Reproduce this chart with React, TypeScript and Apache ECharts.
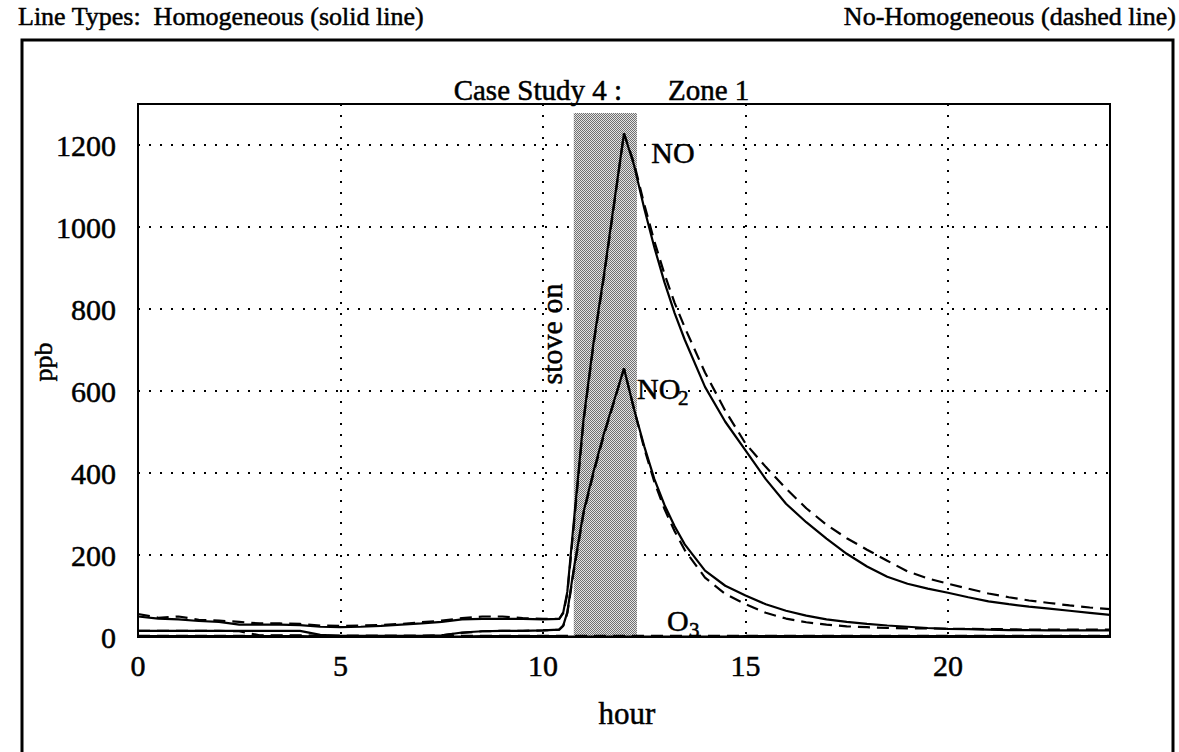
import React, { useEffect, useRef } from 'react';
import * as echarts from 'echarts';

// ---- data (hour of day vs concentration in ppb) ----
const hours = [
  0, 0.5, 1, 1.5, 2, 2.5, 3, 3.5, 4, 4.5,
  5, 5.5, 6, 6.5, 7, 7.5, 8, 8.5, 9, 9.5,
  10, 10.4, 10.5, 10.6, 10.75, 11, 11.25, 11.5, 11.75, 12,
  12.25, 12.5, 12.75, 13, 13.25, 13.5, 14, 14.5, 15, 15.5,
  16, 16.5, 17, 17.5, 18, 18.5, 19, 19.5, 20, 20.5,
  21, 21.5, 22, 22.5, 23, 23.5, 24,
];

const noHomogeneous = [
  50, 45, 43, 39, 37, 30, 30, 30, 29, 25,
  24, 25, 27, 30, 33, 37, 43, 44, 44, 44,
  43, 44, 60, 110, 270, 530, 720, 880, 1055, 1228,
  1150, 1045, 950, 865, 790, 725, 610, 525, 455, 385,
  325, 280, 240, 203, 172, 147, 130, 118, 108, 97,
  87, 80, 74, 69, 64, 59, 54,
];

const noNonHomogeneous = [
  56, 47, 50, 42, 40, 37, 33, 33, 32, 28,
  27, 28, 29, 32, 36, 40, 46, 50, 50, 46,
  44, 44, 58, 105, 260, 525, 715, 875, 1050, 1228,
  1155, 1055, 965, 885, 815, 755, 645, 552, 472, 415,
  362, 314, 274, 241, 213, 186, 160, 143, 130, 118,
  106, 97, 89, 83, 77, 72, 68,
];

const no2Homogeneous = [
  15, 15, 15, 15, 15, 15, 15, 15, 15, 5,
  3, 3, 3, 3, 3, 4, 11, 14, 15, 15,
  16, 18, 28, 60, 160, 305, 405, 495, 575, 655,
  555, 465, 385, 322, 270, 226, 162, 125, 101, 80,
  64, 52, 43, 37, 32, 28, 25, 22, 20, 19,
  18, 17, 17, 16, 16, 16, 16,
];

const no2NonHomogeneous = [
  15, 15, 15, 15, 15, 14, 4, 4, 4, 3,
  3, 3, 3, 3, 3, 4, 10, 14, 15, 15,
  16, 18, 27, 58, 155, 300, 400, 490, 572, 655,
  555, 460, 378, 312, 258, 212, 145, 105, 80, 59,
  45, 36, 30, 26, 24, 22, 21, 21, 20, 20,
  19, 19, 18, 18, 18, 18, 18,
];

const o3Homogeneous = [
  2, 2, 2, 2, 2, 2, 2, 2, 2, 1,
  1, 1, 1, 1, 1, 1, 1, 2, 2, 2,
  2, 2, 1, 1, 1, 1, 1, 1, 1, 1,
  1, 1, 1, 1, 1, 1, 1, 1, 2, 2,
  2, 2, 2, 2, 2, 2, 2, 2, 2, 2,
  2, 2, 2, 2, 2, 2, 2,
];

const o3NonHomogeneous = [
  3, 3, 3, 3, 3, 3, 3, 3, 3, 3,
  3, 3, 3, 3, 3, 3, 3, 3, 3, 3,
  3, 3, 3, 3, 3, 3, 3, 3, 3, 3,
  3, 3, 3, 3, 3, 3, 3, 3, 3, 3,
  3, 3, 3, 3, 3, 3, 3, 3, 3, 3,
  3, 3, 3, 3, 3, 3, 3,
];

const stoveOnHours = [10.76, 12.32];
const stoveShadeTop = 1278;
const xMin = 0;
const xMax = 24;
const xInterval = 5;
const yMin = 0;
const yMax = 1300;
const yInterval = 200;

const FONT = '"Liberation Serif", "Times New Roman", serif';
const INK = 0.5; // slight stroke to mimic the heavy scanned type

const pairs = (ys: number[]) => hours.map((h, i) => [h, ys[i]]);

function makeHalftone(): any {
  const c = document.createElement('canvas');
  c.width = 2;
  c.height = 2;
  const ctx = c.getContext('2d');
  if (!ctx) return '#b0b0b0';
  ctx.fillStyle = '#e4e4e4';
  ctx.fillRect(0, 0, 2, 2);
  ctx.fillStyle = '#707070';
  ctx.fillRect(0, 0, 1, 1);
  ctx.fillRect(1, 1, 1, 1);
  return { image: c, repeat: 'repeat', imageWidth: 2, imageHeight: 2 };
}

export default function App() {
  const ref = useRef<HTMLDivElement>(null);

  useEffect(() => {
    if (!ref.current) return;
    const chart = echarts.init(ref.current, undefined, { renderer: 'svg' });

    const solid = { color: '#000', width: 2.2, type: 'solid' as const };
    const dashed = { color: '#000', width: 2.2, type: [12, 7] as any };

    const mkSeries = (name: string, ys: number[], style: any, extra: any = {}) => ({
      name,
      type: 'line',
      data: pairs(ys),
      symbol: 'none',
      showSymbol: false,
      lineStyle: style,
      itemStyle: { color: '#000' },
      z: 3,
      ...extra,
    });

    const text = (x: number, y: number, t: string, size: number, extra: any = {}) => ({
      type: 'text',
      x,
      y,
      z: 10,
      style: {
        text: t,
        fontFamily: FONT,
        fontSize: size,
        fill: '#000',
        stroke: '#000',
        lineWidth: INK,
        align: 'left',
        verticalAlign: 'middle',
        ...(extra.style || {}),
      },
      ...(extra.rotation !== undefined ? { rotation: extra.rotation } : {}),
    });

    const tickLabel = {
      color: '#000',
      fontFamily: FONT,
      fontSize: 30,
      textBorderColor: '#000',
      textBorderWidth: INK,
    };

    chart.setOption({
      animation: false,
      backgroundColor: '#fff',
      grid: {
        left: 138,
        right: 69,
        top: 104,
        bottom: 115,
        show: true,
        borderColor: '#000',
        borderWidth: 2,
      },
      xAxis: {
        type: 'value',
        min: xMin,
        max: xMax,
        interval: xInterval,
        axisLine: { show: true, onZero: false, lineStyle: { color: '#000', width: 2 } },
        axisTick: { show: false },
        axisLabel: {
          ...tickLabel,
          margin: 13,
          formatter: (v: number) => (v % xInterval === 0 ? String(v) : ''),
        },
        splitLine: {
          show: true,
          lineStyle: { color: '#000', width: 2, type: [2, 9] },
        },
      },
      yAxis: {
        type: 'value',
        min: yMin,
        max: yMax,
        interval: yInterval,
        axisLine: { show: true, lineStyle: { color: '#000', width: 2 } },
        axisTick: { show: false },
        axisLabel: {
          ...tickLabel,
          margin: 22,
          formatter: (v: number) => (v % yInterval === 0 && v <= 1200 ? String(v) : ''),
        },
        splitLine: {
          show: true,
          lineStyle: { color: '#000', width: 2, type: [2, 9] },
        },
      },
      series: [
        mkSeries('NO homogeneous', noHomogeneous, solid, {
          markArea: {
            silent: true,
            itemStyle: { color: makeHalftone() },
            data: [[{ coord: [stoveOnHours[0], 0] }, { coord: [stoveOnHours[1], stoveShadeTop] }]],
          },
        }),
        mkSeries('NO non-homogeneous', noNonHomogeneous, dashed),
        mkSeries('NO2 homogeneous', no2Homogeneous, solid),
        mkSeries('NO2 non-homogeneous', no2NonHomogeneous, dashed),
        mkSeries('O3 homogeneous', o3Homogeneous, solid),
        mkSeries('O3 non-homogeneous', o3NonHomogeneous, dashed),
      ],
      graphic: [
        {
          type: 'rect',
          z: 0,
          shape: { x: 22, y: 40, width: 1151, height: 760 },
          style: { fill: 'none', stroke: '#000', lineWidth: 3 },
        },
        text(18, 16, 'Line Types:  Homogeneous (solid line)', 26),
        text(1176, 16, 'No-Homogeneous (dashed line)', 26, { style: { align: 'right' } }),
        text(622, 90, 'Case Study 4 :', 29, { style: { align: 'right' } }),
        text(668, 90, 'Zone 1', 29),
        text(627, 713, 'hour', 31, { style: { align: 'center' } }),
        text(43, 362, 'ppb', 26, { style: { align: 'center' }, rotation: Math.PI / 2 }),
        text(551, 334, 'stove on', 30, { style: { align: 'center' }, rotation: Math.PI / 2 }),
        text(673, 152, 'NO', 30, { style: { align: 'center' } }),
        text(637, 388, 'NO', 30),
        text(678, 398, '2', 21),
        text(667, 620, 'O', 30),
        text(689, 630, '3', 21),
      ],
    });

    return () => chart.dispose();
  }, []);

  return (
    <div
      ref={ref}
      style={{ position: 'fixed', left: 0, top: 0, width: 1179, height: 752, background: '#fff' }}
    />
  );
}
